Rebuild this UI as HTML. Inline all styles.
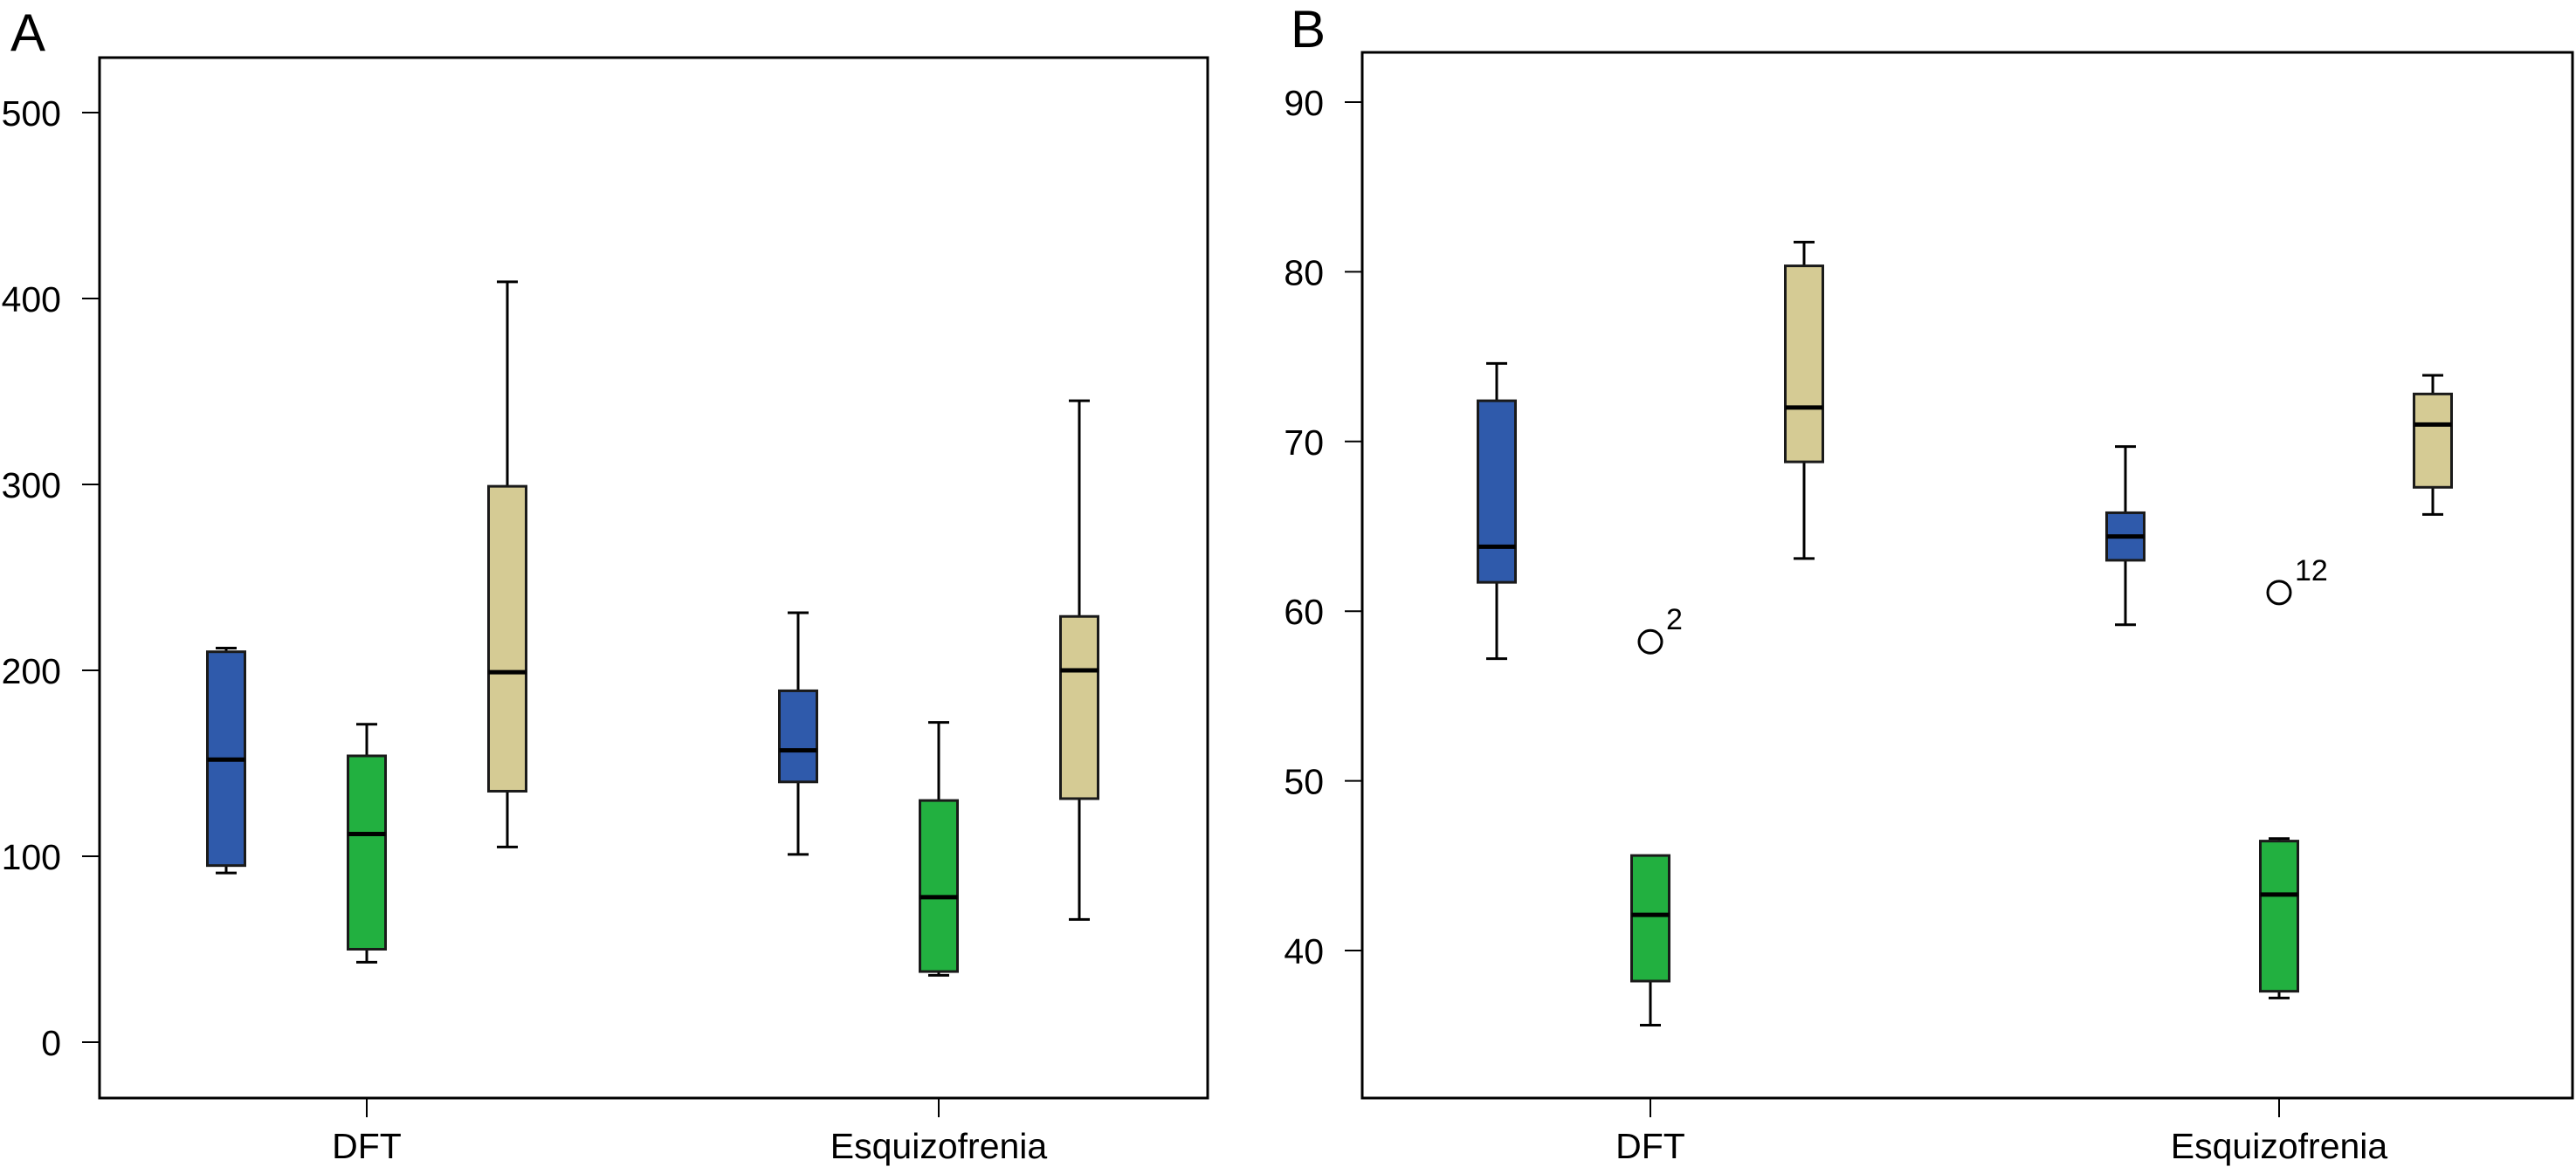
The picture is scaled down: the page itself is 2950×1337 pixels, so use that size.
<!DOCTYPE html>
<html><head><meta charset="utf-8"><style>
html,body{margin:0;padding:0;background:#fff;}
svg{display:block;font-family:"Liberation Sans",sans-serif;}
</style></head><body>
<svg id="chart" width="2950" height="1337" viewBox="0 0 2950 1337" xmlns="http://www.w3.org/2000/svg">
<text x="12" y="58" font-size="60">A</text>
<text x="1478" y="54" font-size="60">B</text>
</svg>
<script>
const categories = ["DFT", "Esquizofrenia"];
const colors = ["#2f5aab", "#22b040", "#d5cb94"];
// Panel A: [low, q1, median, q3, high] per category, per series (blue, green, tan)
const aBlue = [[91, 95, 152, 210, 212], [101, 140, 157, 189, 231]];
const aGreen = [[43, 50, 112, 154, 171], [36, 38, 78, 130, 172]];
const aTan = [[105, 135, 199, 299, 409], [66, 131, 200, 229, 345]];
const aTicks = [0, 100, 200, 300, 400, 500];
// Panel B
const bBlue = [[57.2, 61.7, 63.8, 72.4, 74.6], [59.2, 63.0, 64.4, 65.8, 69.7]];
const bGreen = [[35.6, 38.2, 42.1, 45.6, 45.6], [37.2, 37.6, 43.3, 46.45, 46.6]];
const bTan = [[63.1, 68.8, 72.0, 80.35, 81.75], [65.7, 67.3, 71.0, 72.8, 73.9]];
const bOutlierValues = [58.2, 61.1];
const bOutlierLabels = ["2", "12"];
const bTicks = [40, 50, 60, 70, 80, 90];

const svg = document.getElementById('chart');
const NS = 'http://www.w3.org/2000/svg';
function mk(tag, attrs) {
  const e = document.createElementNS(NS, tag);
  for (const k in attrs) e.setAttribute(k, attrs[k]);
  svg.appendChild(e);
  return e;
}

function panel(p) {
  const y = v => p.y0 + (v - p.v0) * (p.y1 - p.y0) / (p.v1 - p.v0);
  const frame = mk('rect', {x: p.left, y: p.top, width: p.right - p.left, height: p.bottom - p.top, fill: 'none', stroke: '#000', 'stroke-width': 3});
  
  
  p.ticks.forEach(t => {
    const ln = mk('line', {x1: p.left - 20, x2: p.left, y1: y(t), y2: y(t), stroke: '#000', 'stroke-width': 2});
    
    
    const tx = mk('text', {x: p.left - 44, y: y(t) + 15, 'font-size': 41, 'text-anchor': 'end'});
    tx.textContent = t;
    
    
  });
  categories.forEach((c, i) => {
    const cx = p.catX[i];
    const ln = mk('line', {x1: cx, x2: cx, y1: p.bottom, y2: p.bottom + 22, stroke: '#000', 'stroke-width': 2});
    
    
    const tx = mk('text', {x: cx, y: 1327, 'font-size': 41, 'text-anchor': 'middle'});
    tx.textContent = c;
    
    
    p.series.forEach((s, j) => {
      const d = s[i];
      const bx = cx + (j - 1) * p.off;
      const g = document.createElementNS(NS, 'g');
      
      
      svg.appendChild(g);
      const add = (tag, a) => { const e = document.createElementNS(NS, tag); for (const k in a) e.setAttribute(k, a[k]); g.appendChild(e); return e; };
      const hw = 21.5, cw = 12;
      if (d[0] < d[1]) {
        add('line', {x1: bx, x2: bx, y1: y(d[0]), y2: y(d[1]), stroke: '#000', 'stroke-width': 3});
        add('line', {x1: bx - cw, x2: bx + cw, y1: y(d[0]), y2: y(d[0]), stroke: '#000', 'stroke-width': 3});
      }
      if (d[4] > d[3]) {
        add('line', {x1: bx, x2: bx, y1: y(d[4]), y2: y(d[3]), stroke: '#000', 'stroke-width': 3});
        add('line', {x1: bx - cw, x2: bx + cw, y1: y(d[4]), y2: y(d[4]), stroke: '#000', 'stroke-width': 3});
      }
      add('rect', {x: bx - hw, y: y(d[3]), width: 2 * hw, height: y(d[1]) - y(d[3]), fill: colors[j], stroke: '#1a1a1a', 'stroke-width': 3});
      add('line', {x1: bx - hw, x2: bx + hw, y1: y(d[2]), y2: y(d[2]), stroke: '#000', 'stroke-width': 5});
    });
  });
  return y;
}

panel({name: 'panel-a', left: 114, right: 1383, top: 66, bottom: 1258, v0: 0, y0: 1194, v1: 500, y1: 129,
  ticks: aTicks, catX: [420, 1075], off: 161, series: [aBlue, aGreen, aTan]});
const yb = panel({name: 'panel-b', left: 1560, right: 2946, top: 60, bottom: 1258, v0: 40, y0: 1089, v1: 90, y1: 117,
  ticks: bTicks, catX: [1890, 2610], off: 176, series: [bBlue, bGreen, bTan]});
bOutlierValues.forEach((v, i) => {
  const cx = [1890, 2610][i];
  const c = mk('circle', {cx: cx, cy: yb(v), r: 13, fill: 'none', stroke: '#000', 'stroke-width': 3});
  
  
  const t = mk('text', {x: cx + 18, y: yb(v) - 14, 'font-size': 34});
  t.textContent = bOutlierLabels[i];
  
  
});
</script>
</body></html>
